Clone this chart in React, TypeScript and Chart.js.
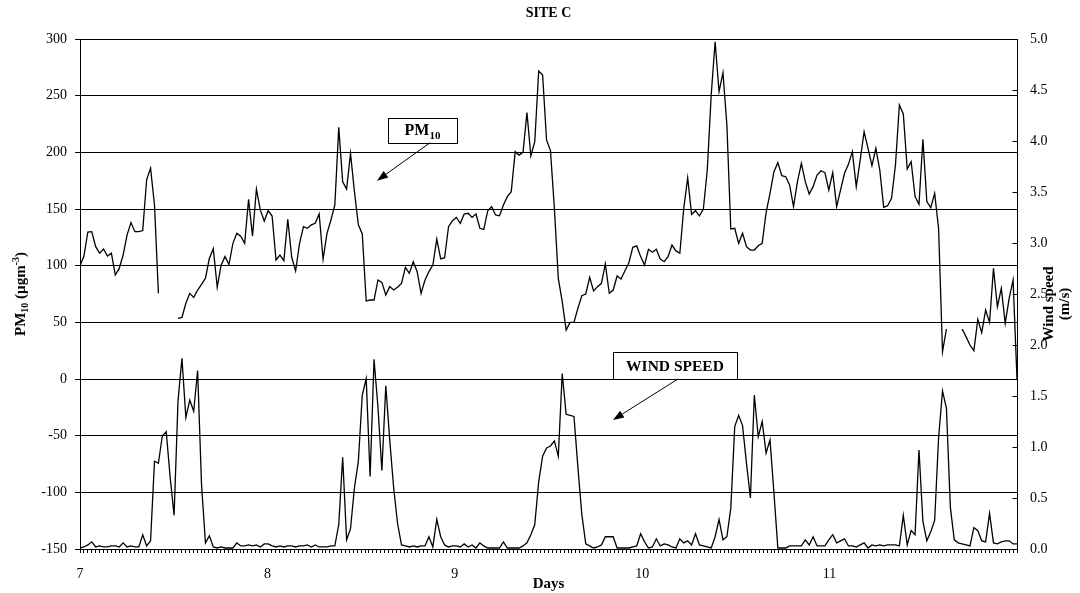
import React, { useEffect, useRef } from "react";
import { Chart, registerables } from "chart.js";

Chart.register(...registerables);

// ---- data ----
const START_DAY = 7;
const END_DAY = 12;
const TICKS_PER_DAY = 48; // half-hourly tick marks on the day axis
const dayLabels = [7, 8, 9, 10, 11];

const pm10Values: (number | null)[] = [
  // day 7
  100, 108.5, 129.7, 130, 116.8, 111, 114.7, 108.5, 111, 91.8, 97.6, 109.4, 127, 138, 130, 130,
  131, 176, 186, 153.5, 75.6, null, null, null, null, 53.5, 54.4, 66.8, 75.6, 72, 78.5, 83.5,
  89, 106.5, 115, 81, 100.6, 108, 101, 119.7, 128.5, 126, 119.7, 158.5, 126, 167.6, 149, 139.4,
  // day 8
  148.5, 143.8, 105, 109.4, 104.4, 141, 107.4, 95.3, 119.7, 134.4, 133, 136, 137.4, 145.6, 105.6, 128.5,
  140.3, 153.5, 222, 174, 167.6, 199, 165.3, 136, 128, 68.8, 69.7, 69.7, 87.4, 85.3, 74.1, 81.5,
  78.5, 81, 84.4, 98.5, 93.2, 103.5, 94.7, 75.6, 87.4, 94.7, 100.6, 123.5, 105.9, 107, 134.4, 139.7,
  // day 9
  142.6, 137.4, 145.6, 146.2, 142.6, 145.6, 133, 132, 148.5, 152, 144.7, 144, 153.5, 160.9, 165.3, 200.6,
  197.6, 200, 235, 196.8, 209.4, 271.8, 268.2, 210.9, 201.5, 150.6, 88.8, 68.2, 43.2, 50, 50, 62.4,
  73.5, 75, 89.7, 77.6, 81.5, 84.4, 101.5, 75.6, 78.5, 90.9, 88.2, 95.6, 102.6, 116.2, 117.4, 108,
  // day 10
  100.6, 114.4, 111.8, 114.4, 105.9, 103.5, 108, 118.2, 113, 111, 150.6, 177.6, 145.3, 148.5, 144, 150,
  184.4, 250.6, 297.6, 253.5, 270.3, 224.1, 132.4, 133, 119.7, 128.5, 116.8, 113.8, 113.8, 117.6, 119.7, 146.8,
  163.8, 182.9, 190.9, 179.4, 178.5, 171.2, 152.1, 174.1, 190.3, 174.1, 163.2, 169.7, 180, 183.8, 182.1, 166.8,
  // day 11
  182.1, 152.1, 166.8, 181.5, 189.4, 200.6, 169.7, 193.2, 218.2, 203.5, 188.2, 203.5, 184.4, 151.5, 152.9, 159.4,
  188.8, 241.8, 233.8, 185.3, 191.8, 160.9, 154.1, 211.5, 156.5, 151.2, 163.8, 132.9, 24.1, 44.1, null, null,
  null, 44.1, 37.4, 30, 25, 52.6, 40.9, 60.9, 50, 97.6, 63.8, 80, 49.1, 71.2, 87.4, 0,
];

const windValues: number[] = [
  // day 7
  0.01, 0.02, 0.04, 0.07, 0.02, 0.03, 0.02, 0.02, 0.03, 0.03, 0.02, 0.06, 0.02, 0.03, 0.02, 0.02,
  0.14, 0.03, 0.08, 0.86, 0.84, 1.11, 1.15, 0.7, 0.33, 1.45, 1.87, 1.29, 1.46, 1.35, 1.75, 0.63,
  0.06, 0.13, 0.02, 0.01, 0.02, 0.01, 0.01, 0.01, 0.06, 0.03, 0.03, 0.04, 0.03, 0.04, 0.02, 0.05,
  // day 8
  0.05, 0.03, 0.02, 0.03, 0.02, 0.03, 0.03, 0.02, 0.03, 0.03, 0.04, 0.02, 0.04, 0.02, 0.02, 0.02,
  0.03, 0.03, 0.24, 0.9, 0.09, 0.2, 0.6, 0.86, 1.51, 1.67, 0.71, 1.86, 1.39, 0.77, 1.6, 1.07,
  0.6, 0.25, 0.04, 0.03, 0.02, 0.03, 0.02, 0.03, 0.03, 0.12, 0.02, 0.29, 0.12, 0.04, 0.02, 0.03,
  // day 9
  0.03, 0.02, 0.05, 0.02, 0.04, 0.01, 0.06, 0.03, 0.01, 0.01, 0.01, 0.01, 0.07, 0.01, 0.01, 0.01,
  0.01, 0.03, 0.06, 0.14, 0.24, 0.66, 0.91, 0.99, 1.01, 1.06, 0.91, 1.72, 1.32, 1.31, 1.3, 0.8,
  0.34, 0.05, 0.03, 0.01, 0.02, 0.04, 0.12, 0.12, 0.12, 0.01, 0.01, 0.01, 0.01, 0.02, 0.03, 0.15,
  // day 10
  0.07, 0.01, 0.02, 0.1, 0.03, 0.05, 0.04, 0.02, 0.01, 0.1, 0.06, 0.08, 0.04, 0.15, 0.04, 0.03,
  0.02, 0.01, 0.12, 0.29, 0.09, 0.12, 0.4, 1.2, 1.31, 1.21, 0.84, 0.5, 1.51, 1.1, 1.25, 0.94,
  1.07, 0.55, 0.01, 0.01, 0.01, 0.03, 0.03, 0.03, 0.03, 0.09, 0.04, 0.12, 0.03, 0.03, 0.03, 0.09,
  // day 11
  0.14, 0.06, 0.08, 0.1, 0.03, 0.03, 0.02, 0.04, 0.06, 0.01, 0.04, 0.03, 0.04, 0.03, 0.04, 0.04,
  0.04, 0.03, 0.33, 0.04, 0.18, 0.14, 0.97, 0.27, 0.08, 0.17, 0.28, 1.09, 1.55, 1.38, 0.41, 0.09,
  0.06, 0.05, 0.04, 0.03, 0.21, 0.18, 0.08, 0.07, 0.35, 0.06, 0.05, 0.07, 0.08, 0.08, 0.05, 0.05,
];

const SERIF = '"Liberation Serif", "Times New Roman", serif';

function drawArrow(ctx: CanvasRenderingContext2D, x1: number, y1: number, x2: number, y2: number) {
  const ang = Math.atan2(y2 - y1, x2 - x1);
  const headLen = 11;
  const headW = 4;
  const bx = x2 - headLen * Math.cos(ang);
  const by = y2 - headLen * Math.sin(ang);
  ctx.beginPath();
  ctx.moveTo(x1, y1);
  ctx.lineTo(bx, by);
  ctx.stroke();
  ctx.beginPath();
  ctx.moveTo(x2, y2);
  ctx.lineTo(bx + headW * Math.sin(ang), by - headW * Math.cos(ang));
  ctx.lineTo(bx - headW * Math.sin(ang), by + headW * Math.cos(ang));
  ctx.closePath();
  ctx.fill();
}

type Part = { t: string; f: number; dy: number };

function drawParts(ctx: CanvasRenderingContext2D, parts: Part[], cx: number, baseY: number) {
  let total = 0;
  for (const p of parts) {
    ctx.font = `bold ${p.f}px ${SERIF}`;
    total += ctx.measureText(p.t).width;
  }
  let x = cx - total / 2;
  ctx.textAlign = "left";
  ctx.textBaseline = "alphabetic";
  for (const p of parts) {
    ctx.font = `bold ${p.f}px ${SERIF}`;
    ctx.fillText(p.t, x, baseY + p.dy);
    x += ctx.measureText(p.t).width;
  }
}

const overlayPlugin = {
  id: "overlay",
  afterDraw(chart: any) {
    const { ctx, chartArea, scales } = chart;
    const xs = scales.x;
    const ys = scales.y;
    const ws = scales.y1;
    const midX = (chartArea.left + chartArea.right) / 2;
    const midY = (chartArea.top + chartArea.bottom) / 2;
    ctx.save();
    ctx.fillStyle = "#000";
    ctx.strokeStyle = "#000";
    ctx.lineWidth = 1;

    // inward tick marks on the right axis
    for (const t of ws.ticks) {
      const py = Math.round(ws.getPixelForValue(t.value)) + 0.5;
      ctx.beginPath();
      ctx.moveTo(chartArea.right - 4.5, py);
      ctx.lineTo(chartArea.right, py);
      ctx.stroke();
    }

    // title
    ctx.font = `bold 14px ${SERIF}`;
    ctx.textAlign = "center";
    ctx.textBaseline = "middle";
    ctx.fillText("SITE C", midX, 13);

    // x axis title
    ctx.font = `bold 15px ${SERIF}`;
    ctx.fillText("Days", midX, 584);

    // left axis title
    ctx.save();
    ctx.translate(0, midY);
    ctx.rotate(-Math.PI / 2);
    drawParts(
      ctx,
      [
        { t: "PM", f: 15, dy: 0 },
        { t: "10", f: 10, dy: 3 },
        { t: " (µgm", f: 15, dy: 0 },
        { t: "-3", f: 10, dy: -6 },
        { t: ")", f: 15, dy: 0 },
      ],
      0,
      25
    );
    ctx.restore();

    // right axis title
    ctx.save();
    ctx.translate(0, midY + 10);
    ctx.rotate(-Math.PI / 2);
    ctx.font = `bold 15px ${SERIF}`;
    ctx.textAlign = "center";
    ctx.textBaseline = "alphabetic";
    ctx.fillText("Wind speed", 0, 1053);
    ctx.fillText("(m/s)", 0, 1069);
    ctx.restore();

    // PM10 label box
    {
      const l = xs.getPixelForValue(8.643);
      const r = xs.getPixelForValue(9.012);
      const t = ys.getPixelForValue(230.6);
      const b = ys.getPixelForValue(208.5);
      ctx.fillStyle = "#fff";
      ctx.fillRect(l, t, r - l, b - t);
      ctx.fillStyle = "#000";
      ctx.strokeRect(Math.round(l) + 0.5, Math.round(t) + 0.5, Math.round(r - l), Math.round(b - t));
      drawParts(
        ctx,
        [
          { t: "PM", f: 16, dy: 0 },
          { t: "10", f: 11, dy: 4 },
        ],
        (l + r) / 2,
        (t + b) / 2 + 5
      );
      drawArrow(
        ctx,
        xs.getPixelForValue(8.868),
        b,
        xs.getPixelForValue(8.585),
        ys.getPixelForValue(175)
      );
    }

    // WIND SPEED label box
    {
      const l = xs.getPixelForValue(9.844);
      const r = xs.getPixelForValue(10.506);
      const t = ws.getPixelForValue(1.931);
      const b = ws.getPixelForValue(1.667);
      ctx.fillStyle = "#fff";
      ctx.fillRect(l, t, r - l, b - t);
      ctx.fillStyle = "#000";
      ctx.strokeRect(Math.round(l) + 0.5, Math.round(t) + 0.5, Math.round(r - l), Math.round(b - t));
      ctx.font = `bold 15.5px ${SERIF}`;
      ctx.textAlign = "center";
      ctx.textBaseline = "alphabetic";
      ctx.fillText("WIND SPEED", (l + r) / 2, (t + b) / 2 + 5);
      drawArrow(
        ctx,
        xs.getPixelForValue(10.191),
        b,
        xs.getPixelForValue(9.844),
        ws.getPixelForValue(1.265)
      );
    }
    ctx.restore();
  },
};

export default function App() {
  const canvasRef = useRef<HTMLCanvasElement | null>(null);

  useEffect(() => {
    document.body.style.margin = "0";
    const canvas = canvasRef.current;
    if (!canvas) return;

    // readings are evenly spaced from the start of day 7 to the end of day 11
    const n = pm10Values.length;
    const xOf = (i: number) => START_DAY + (i * (END_DAY - START_DAY)) / (n - 1);
    const pmData = pm10Values.map((v, i) => ({ x: xOf(i), y: v }));
    const windData = windValues.map((v, i) => ({ x: xOf(i), y: v }));
    const axisTicks: { value: number }[] = [];
    for (let k = 0; k <= (END_DAY - START_DAY) * TICKS_PER_DAY; k++) {
      axisTicks.push({ value: START_DAY + k / TICKS_PER_DAY });
    }

    const chart = new Chart(canvas, {
      type: "line",
      data: {
        datasets: [
          {
            label: "PM10",
            data: pmData as any,
            yAxisID: "y",
            borderColor: "#000",
            borderWidth: 1.3,
            pointRadius: 0,
            fill: false,
            tension: 0,
            spanGaps: false,
          },
          {
            label: "Wind speed",
            data: windData as any,
            yAxisID: "y1",
            borderColor: "#000",
            borderWidth: 1.3,
            pointRadius: 0,
            fill: false,
            tension: 0,
          },
        ],
      },
      options: {
        animation: false,
        responsive: false,
        devicePixelRatio: 1,
        layout: { padding: { top: 39, left: 0, right: 0, bottom: 0 } },
        plugins: {
          legend: { display: false },
          tooltip: { enabled: false },
          title: { display: false },
        },
        scales: {
          x: {
            type: "linear",
            position: "bottom",
            min: START_DAY,
            max: END_DAY,
            afterBuildTicks: (scale: any) => {
              scale.ticks = axisTicks.slice();
            },
            afterFit: (scale: any) => {
              scale.height = 44;
            },
            ticks: {
              autoSkip: false,
              maxRotation: 0,
              minRotation: 0,
              padding: 13,
              color: "#000",
              font: { family: SERIF, size: 14 },
              callback: (value: any) => {
                const v = Number(value);
                const r = Math.round(v);
                return Math.abs(v - r) < 1e-6 && dayLabels.includes(r) ? String(r) : "";
              },
            },
            grid: {
              display: true,
              drawOnChartArea: false,
              drawTicks: true,
              tickLength: 4,
              color: "#000",
              lineWidth: 1,
            },
            border: { display: true, color: "#000", width: 1 },
          },
          y: {
            type: "linear",
            position: "left",
            min: -150,
            max: 300,
            afterFit: (scale: any) => {
              scale.width = 80;
            },
            ticks: {
              stepSize: 50,
              padding: 8,
              color: "#000",
              font: { family: SERIF, size: 14 },
            },
            grid: {
              display: true,
              drawOnChartArea: true,
              drawTicks: true,
              tickLength: 5,
              color: "#000",
              lineWidth: 1,
            },
            border: { display: true, color: "#000", width: 1 },
          },
          y1: {
            type: "linear",
            position: "right",
            min: 0,
            max: 5,
            afterFit: (scale: any) => {
              scale.width = 63;
            },
            ticks: {
              stepSize: 0.5,
              padding: 13,
              color: "#000",
              font: { family: SERIF, size: 14 },
              callback: (value: any) => Number(value).toFixed(1),
            },
            grid: {
              display: true,
              drawOnChartArea: false,
              drawTicks: false,
            },
            border: { display: true, color: "#000", width: 1 },
          },
        },
      },
      plugins: [overlayPlugin],
    });

    return () => {
      chart.destroy();
    };
  }, []);

  return (
    <div style={{ width: 1080, height: 593, position: "relative" }}>
      <canvas ref={canvasRef} width={1080} height={593} style={{ display: "block" }} />
    </div>
  );
}
